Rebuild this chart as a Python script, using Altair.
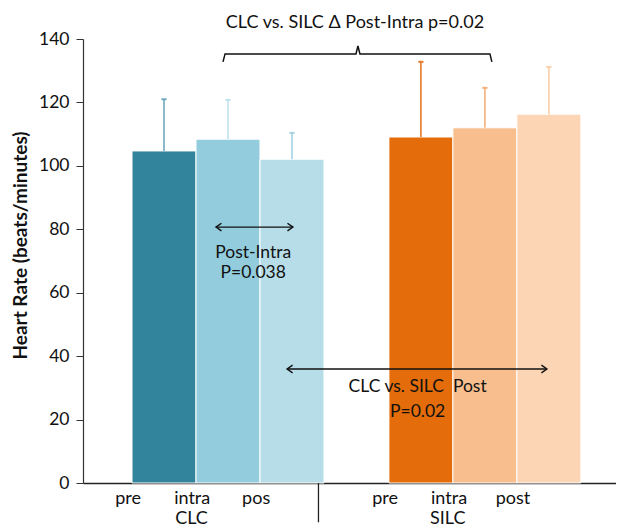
import altair as alt
import pandas as pd

# ---- data ----
groups = ["CLC", "CLC", "CLC", "SILC", "SILC", "SILC"]
times = ["pre", "intra", "pos", "pre", "intra", "post"]
means = [104.7, 108.4, 102.1, 109.1, 112.0, 116.3]
upper = [121.0, 120.8, 110.4, 132.8, 124.6, 131.2]
bar_colors = ["#31849b", "#93cddd", "#b7dde8", "#e46c0a", "#f9be8e", "#fcd5b5"]
err_colors = ["#6fa9bd", "#bfe2ec", "#a3d3e1", "#e57a2c", "#f6b07a", "#fbcfaa"]

FONT = "Lato"
group_start = {"CLC": 0.766, "SILC": 4.781}

rows = []
for i, (g, t, m, u) in enumerate(zip(groups, times, means, upper)):
    k = i % 3
    x0 = group_start[g] + k
    rows.append(dict(g=g, t=t, mean=m, top=u, x0=x0, x1=x0 + 1,
                     xc=x0 + 0.5, xl=x0 - 0.06, fill=bar_colors[i], ecol=err_colors[i]))
df = pd.DataFrame(rows)

grp_df = pd.DataFrame({"label": ["CLC", "SILC"],
                       "x": [group_start["CLC"] + 0.93, group_start["SILC"] + 0.92],
                       "y": [-12.9, -12.9]})

X = alt.Scale(domain=[0, 8.33], nice=False, zero=False)
Y = alt.Scale(domain=[0, 140], nice=False)

bars = alt.Chart(df).mark_rect(stroke="white", strokeWidth=1).encode(
    x=alt.X("x0:Q", scale=X, axis=alt.Axis(title=None, labels=False, ticks=False, grid=False,
                                           domainColor="#222", domainWidth=1.5)),
    x2="x1:Q",
    y=alt.Y("mean:Q", scale=Y, axis=alt.Axis(title="Heart Rate (beats/minutes)", values=list(range(0, 141, 20)),
                                             grid=False, labelFontSize=17.5, labelColor="#111", labelFont=FONT,
                                             labelPadding=7,
                                             tickSize=7, tickColor="#333", domainColor="#333", domainWidth=1.2,
                                             titleFont=FONT, titleFontSize=19, titleFontWeight="bold",
                                             titleColor="#111", titleX=-63, titleY=206,
                                             titleAngle=270, titleAlign="center", titleBaseline="middle")),
    y2=alt.datum(0),
    color=alt.Color("fill:N", scale=None),
)

err = alt.Chart(df).mark_rule(strokeWidth=1.6).encode(
    x="xc:Q", y="mean:Q", y2="top:Q", color=alt.Color("ecol:N", scale=None))
caps = alt.Chart(df).transform_calculate(a="datum.xc-0.04", b="datum.xc+0.04").mark_rule(strokeWidth=2).encode(
    x="a:Q", x2="b:Q", y="top:Q", color=alt.Color("ecol:N", scale=None))

tick_labels = alt.Chart(df).mark_text(font=FONT, fontSize=18, color="#111", baseline="alphabetic").encode(
    x="xl:Q", y=alt.datum(-6.7), text="t:N")
group_labels = alt.Chart(grp_df).mark_text(font=FONT, fontSize=18, color="#111", baseline="alphabetic").encode(
    x="x:Q", y="y:Q", text="label:N")
divider = alt.Chart(pd.DataFrame({"x": [3.68]})).mark_rule(color="#222", strokeWidth=1.3).encode(
    x="x:Q", y=alt.datum(0), y2=alt.datum(-12.4))

# ---- annotations ----
brace_x = [2.188, 2.22, 4.266, 4.297, 4.328, 6.36, 6.39]
brace_y = [132.8, 135.3, 135.3, 137.8, 135.3, 135.3, 132.8]
brace = alt.Chart(pd.DataFrame({"x": brace_x, "y": brace_y, "o": range(7)})).mark_line(
    color="#111", strokeWidth=1.5).encode(x="x:Q", y="y:Q", order="o:Q")

arrows = pd.DataFrame({"a": [2.078, 3.19], "b": [3.281, 7.25], "y": [80.7, 35.95]})
arrow_lines = alt.Chart(arrows).mark_rule(color="#111", strokeWidth=1.3).encode(x="a:Q", x2="b:Q", y="y:Q")
left_heads = alt.Chart(arrows).mark_point(shape="M1,-0.7L0,0L1,0.7", filled=False, color="#111",
                                          size=120, strokeWidth=1.4, opacity=1).encode(x="a:Q", y="y:Q")
right_heads = alt.Chart(arrows).mark_point(shape="M-1,-0.7L0,0L-1,0.7", filled=False, color="#111",
                                           size=120, strokeWidth=1.4, opacity=1).encode(x="b:Q", y="y:Q")

notes = pd.DataFrame({
    "text": ["Post-Intra", "P=0.038", "CLC vs. SILC\u00a0\u00a0Post", "P=0.02",
             "CLC vs. SILC \u0394 Post-Intra p=0.02"],
    "x": [2.66, 2.66, 5.23, 5.23, 4.25],
    "y": [72.5, 66.2, 30.3, 22.4, 145.1],
    "size": [17.5, 17.5, 17.5, 17.5, 18],
})
note_text = alt.Chart(notes).mark_text(font=FONT, color="#111", baseline="middle").encode(
    x="x:Q", y="y:Q", text="text:N", size=alt.Size("size:Q", scale=None))

chart = alt.layer(bars, err, caps, tick_labels, group_labels, divider, brace,
                  arrow_lines, left_heads, right_heads, note_text).properties(
    width=533, height=444,
    autosize=alt.AutoSizeParams(type="none"),
    padding={"left": 75, "top": 31, "right": 0, "bottom": 45},
).configure_view(stroke=None, clip=False)

chart.save("out.html", embed_options={"renderer": "svg", "actions": False})
